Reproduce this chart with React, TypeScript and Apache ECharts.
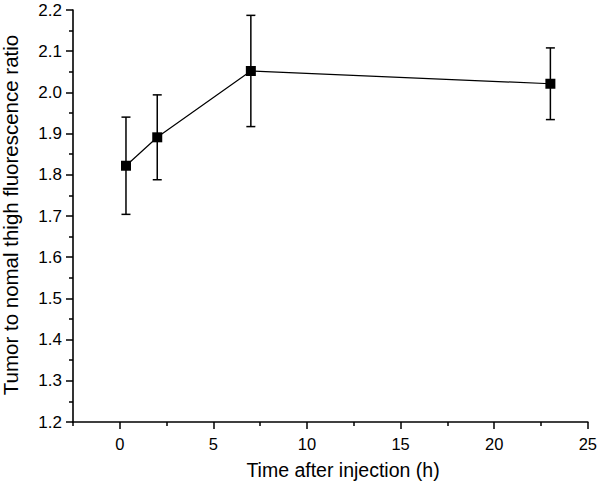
import React, { useEffect, useRef } from "react";
import * as echarts from "echarts";

const times = [0.33, 2, 7, 23];
const means = [1.822, 1.891, 2.052, 2.021];
const errors = [0.118, 0.103, 0.135, 0.087];
const xMajorTicks = [0, 5, 10, 15, 20, 25];
const xMinorTicks = [-2.5, 2.5, 7.5, 12.5, 17.5, 22.5];
const xTitle = "Time after injection (h)";
const yTitle = "Tumor to nomal thigh fluorescence ratio";

const FONT = "'Liberation Sans', Arial, Helvetica, sans-serif";

export default function App() {
  const ref = useRef<HTMLDivElement>(null);
  useEffect(() => {
    if (!ref.current) return;
    const chart = echarts.init(ref.current, undefined, { renderer: "svg" });
    const points = times.map((t, i) => [t, means[i]]);
    const errData = times.map((t, i) => [t, means[i] - errors[i], means[i] + errors[i]]);
    const axisColor = "#000";
    chart.setOption({
      animation: false,
      backgroundColor: "#fff",
      grid: { left: 73, right: 9, top: 10, bottom: 61, containLabel: false },
      xAxis: [
        {
          type: "value",
          min: -2.5,
          max: 25,
          interval: 2.5,
          splitLine: { show: false },
          axisLine: { show: true, onZero: false, lineStyle: { color: axisColor, width: 1.6 } },
          axisTick: { show: true, length: 7, customValues: xMajorTicks, lineStyle: { color: axisColor, width: 1.5 } },
          axisLabel: {
            customValues: xMajorTicks,
            color: "#000",
            fontSize: 16.5,
            fontFamily: FONT,
            margin: 13,
          },
        },
        {
          type: "value",
          min: -2.5,
          max: 25,
          interval: 2.5,
          position: "bottom",
          splitLine: { show: false },
          axisLine: { show: false, onZero: false },
          axisTick: { show: true, length: 4, customValues: xMinorTicks, lineStyle: { color: axisColor, width: 1.5 } },
          axisLabel: { show: false },
        },
      ],
      yAxis: {
        type: "value",
        min: 1.2,
        max: 2.2,
        interval: 0.1,
        splitLine: { show: false },
        axisLine: { show: true, onZero: false, lineStyle: { color: axisColor, width: 1.6 } },
        axisTick: { show: true, length: 7, lineStyle: { color: axisColor, width: 1.5 } },
        minorTick: { show: true, splitNumber: 2, length: 4, lineStyle: { color: axisColor, width: 1.5 } },
        minorSplitLine: { show: false },
        axisLabel: {
          color: "#000",
          fontSize: 17,
          fontFamily: FONT,
          margin: 11,
          formatter: (v: number) => v.toFixed(1),
        },
      },
      series: [
        {
          type: "custom",
          xAxisIndex: 0,
          yAxisIndex: 0,
          z: 1,
          data: errData,
          renderItem: (params: any, api: any) => {
            const x = api.value(0);
            const lo = api.coord([x, api.value(1)]);
            const hi = api.coord([x, api.value(2)]);
            const w = 4.5;
            const style = { stroke: "#000", lineWidth: 1.5 };
            return {
              type: "group",
              children: [
                { type: "line", shape: { x1: lo[0], y1: lo[1], x2: hi[0], y2: hi[1] }, style },
                { type: "line", shape: { x1: lo[0] - w, y1: lo[1], x2: lo[0] + w, y2: lo[1] }, style },
                { type: "line", shape: { x1: hi[0] - w, y1: hi[1], x2: hi[0] + w, y2: hi[1] }, style },
              ],
            };
          },
        },
        {
          type: "line",
          xAxisIndex: 0,
          yAxisIndex: 0,
          z: 3,
          data: points,
          symbol: "rect",
          symbolSize: 10,
          showSymbol: true,
          itemStyle: { color: "#000" },
          lineStyle: { color: "#000", width: 1.2 },
        },
      ],
      graphic: [
        {
          type: "text",
          x: 343,
          y: 470,
          style: {
            text: xTitle,
            fill: "#000",
            font: `19.5px ${FONT}`,
            align: "center",
            verticalAlign: "middle",
          },
        },
        {
          type: "text",
          x: 10,
          y: 215,
          rotation: Math.PI / 2,
          style: {
            text: yTitle,
            fill: "#000",
            font: `20.5px ${FONT}`,
            align: "center",
            verticalAlign: "middle",
          },
        },
      ],
    });
    return () => chart.dispose();
  }, []);
  return (
    <div
      ref={ref}
      style={{ position: "fixed", left: 0, top: 0, width: 600, height: 483 }}
    />
  );
}
